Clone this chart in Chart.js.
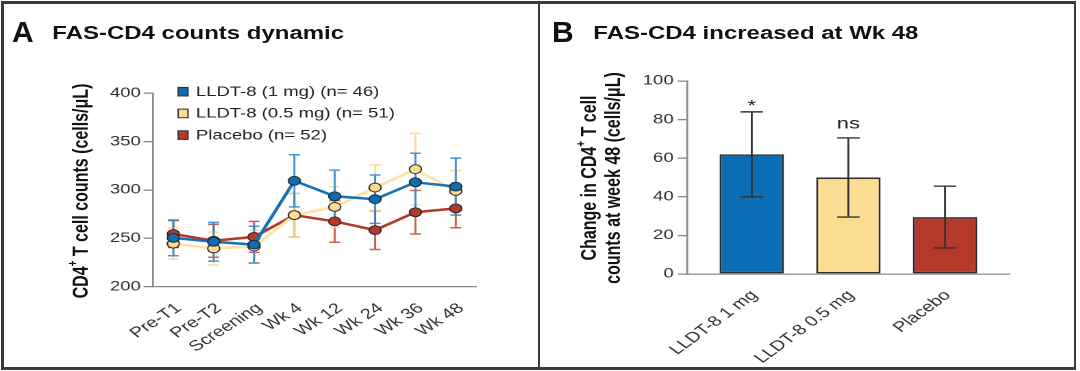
<!DOCTYPE html>
<html>
<head>
<meta charset="utf-8">
<script src="https://cdn.jsdelivr.net/npm/chart.js@4.4.0/dist/chart.umd.min.js"></script>
<style>
    html, body { margin: 0; padding: 0; background: #fff; }
    body { width: 1080px; height: 371px; position: relative; overflow: hidden; font-family: "Liberation Sans", Arial, sans-serif; }
    /* the source figure is stretched sideways, so the whole drawing is too */
    #stretch { position: absolute; left: 0; top: 0; width: 788.3px; height: 371px; transform: scaleX(1.37); transform-origin: 0 0; }
    #stretch canvas { position: absolute; top: 0; }
    .panel-title { position: absolute; font-weight: bold; font-size: 17.5px; line-height: 17.5px; color: #111; white-space: nowrap; }
    .panel-letter { position: absolute; font-weight: bold; font-size: 30px; line-height: 30px; color: #111; }
    .frame { position: absolute; background: #3a3a3a; }
</style>
</head>
<body>
<div id="stretch">
    <div class="panel-title" style="left:38.2px; top:24.5px;">FAS-CD4 counts dynamic</div>
    <div class="panel-title" style="left:433.1px; top:24.5px;">FAS-CD4 increased at Wk 48</div>
    <canvas id="chartA" width="392" height="371" style="left:0;"></canvas>
    <canvas id="chartB" width="394" height="371" style="left:394.2px;"></canvas>
</div>
<div class="panel-letter" style="left:12px; top:17px;">A</div>
<div class="panel-letter" style="left:552px; top:17px;">B</div>
<div class="frame" style="left:1px; top:1px; width:1075px; height:2.5px;"></div>
<div class="frame" style="left:1px; top:367px; width:1075px; height:2.5px;"></div>
<div class="frame" style="left:1px; top:1px; width:2.5px; height:368.5px;"></div>
<div class="frame" style="left:537.5px; top:1px; width:2.5px; height:368.5px;"></div>
<div class="frame" style="left:1073.5px; top:1px; width:2.5px; height:368.5px;"></div>

<script>
// ===== Panel A: CD4 counts over time =====
const timepoints = ['Pre-T1', 'Pre-T2', 'Screening', 'Wk 4', 'Wk 12', 'Wk 24', 'Wk 36', 'Wk 48'];
const seriesNames = ['LLDT-8 (1 mg) (n= 46)', 'LLDT-8 (0.5 mg) (n= 51)', 'Placebo (n= 52)'];

const dose1Mean = [250.5, 246.5, 243.5, 309.5, 293.5, 290.5, 308, 303.5];
const dose1Err = [18.5, 20, 19, 27, 27, 25, 30, 29.5];
const dose05Mean = [244.5, 239.5, 241.5, 274, 282.5, 302.5, 321.5, 299];
const dose05Err = [16, 17, 17, 22.5, 21, 23.5, 37, 21];
const placeboMean = [254.5, 247.5, 251.5, 274, 267.5, 258.5, 277, 281];
const placeboErr = [14, 17, 16, 22.5, 21.5, 20, 22.5, 20];

const countTicks = [200, 250, 300, 350, 400];

// ===== Panel B: change at week 48 =====
const groupNames = ['LLDT-8 1 mg', 'LLDT-8 0.5 mg', 'Placebo'];
const changeMean = [62, 50, 29.5];
const changeErr = [22, 20.5, 16];
const changeSig = ['*', 'ns', ''];
const changeTicks = [0, 20, 40, 60, 80, 100];

const BLUE = '#0b6db4';
const YELLOW = '#fcdc90';
const RED = '#b4392a';
const AXIS = '#8a8a8a';
const FONT = '"Liberation Sans", Arial, sans-serif';

Chart.defaults.font.family = FONT;
Chart.defaults.color = '#333';

function drawVerticalTitle(ctx, parts, cx, cy, size) {
    const main = `bold ${size}px ${FONT}`;
    const small = `bold ${Math.round(size * 0.62)}px ${FONT}`;
    let total = 0;
    parts.forEach(p => {
        ctx.font = p.sup ? small : main;
        total += ctx.measureText(p.t).width;
    });
    ctx.save();
    ctx.translate(cx, cy);
    ctx.rotate(-Math.PI / 2);
    ctx.fillStyle = '#111';
    ctx.textBaseline = 'middle';
    ctx.textAlign = 'left';
    let pos = -total / 2;
    parts.forEach(p => {
        ctx.font = p.sup ? small : main;
        ctx.fillText(p.t, pos, p.sup ? -size * 0.38 : 0);
        pos += ctx.measureText(p.t).width;
    });
    ctx.restore();
}

const lineExtras = {
    id: 'lineExtras',
    beforeDatasetsDraw(chart) {
        const { ctx, scales: { x, y } } = chart;
        for (let i = chart.data.datasets.length - 1; i >= 0; i--) {
            const ds = chart.data.datasets[i];
            ctx.save();
            ctx.strokeStyle = ds.errColor;
            ctx.lineWidth = 1.5;
            ds.data.forEach((v, j) => {
                const px = x.getPixelForValue(j);
                const top = y.getPixelForValue(v + ds.errors[j]);
                const bot = y.getPixelForValue(v - ds.errors[j]);
                ctx.beginPath();
                ctx.moveTo(px, top); ctx.lineTo(px, bot);
                ctx.moveTo(px - 4, top); ctx.lineTo(px + 4, top);
                ctx.moveTo(px - 4, bot); ctx.lineTo(px + 4, bot);
                ctx.stroke();
            });
            ctx.restore();
        }
    },
    afterDraw(chart) {
        const ctx = chart.ctx;
        // legend inside the plot
        chart.data.datasets.forEach((ds, i) => {
            const cy = 91.7 + i * 21.7;
            ctx.save();
            ctx.fillStyle = ds.pointBackgroundColor;
            ctx.strokeStyle = '#333';
            ctx.lineWidth = 1;
            ctx.fillRect(130, cy - 4.3, 7.2, 8.6);
            ctx.strokeRect(130, cy - 4.3, 7.2, 8.6);
            ctx.fillStyle = '#222';
            ctx.font = `13.5px ${FONT}`;
            ctx.textBaseline = 'middle';
            ctx.fillText(ds.label, 143, cy + 0.5);
            ctx.restore();
        });
        drawVerticalTitle(ctx, [{ t: 'CD4' }, { t: '+', sup: true }, { t: ' T cell counts (cells/\u03bcL)' }], 59.6, 191, 16);
    }
};

function lineSeries(label, data, errors, color, lineColor, errColor) {
    return {
        label: label,
        data: data,
        errors: errors,
        errColor: errColor,
        borderColor: lineColor,
        borderWidth: 2.5,
        pointRadius: 4.4,
        pointBackgroundColor: color,
        pointBorderColor: '#2b2b2b',
        pointBorderWidth: 1,
        tension: 0
    };
}

new Chart(document.getElementById('chartA'), {
    type: 'line',
    data: {
        labels: timepoints,
        datasets: [
            lineSeries(seriesNames[0], dose1Mean, dose1Err, BLUE, '#1572b8', 'rgba(40, 130, 205, 0.85)'),
            lineSeries(seriesNames[1], dose05Mean, dose05Err, YELLOW, '#fde2a4', 'rgba(252, 218, 140, 0.9)'),
            lineSeries(seriesNames[2], placeboMean, placeboErr, RED, '#b4392a', 'rgba(192, 70, 52, 0.85)')
        ]
    },
    options: {
        responsive: false,
        animation: false,
        devicePixelRatio: 2,
        layout: { padding: { top: 93.3, right: 44.6, left: 0, bottom: 0 } },
        plugins: { legend: { display: false }, tooltip: { enabled: false } },
        scales: {
            x: {
                offset: true,
                afterFit: s => { s.height = 84.3; },
                grid: { display: false, drawTicks: false },
                border: { color: AXIS, width: 1.3 },
                ticks: { autoSkip: false, minRotation: 41, maxRotation: 41, padding: 13, labelOffset: 4, color: '#333', font: { size: 14.5 } }
            },
            y: {
                min: countTicks[0],
                max: countTicks[countTicks.length - 1],
                afterBuildTicks: s => { s.ticks = countTicks.map(v => ({ value: v })); },
                afterFit: s => { s.width = 111.8; },
                grid: { drawOnChartArea: false, tickLength: 7, color: AXIS, lineWidth: 1.3 },
                border: { color: AXIS, width: 1.3 },
                ticks: { padding: 2, color: '#333', font: { size: 13.5 } }
            }
        }
    },
    plugins: [lineExtras]
});

const barExtras = {
    id: 'barExtras',
    afterDatasetsDraw(chart) {
        const { ctx, scales: { x, y } } = chart;
        ctx.save();
        ctx.strokeStyle = '#333';
        ctx.lineWidth = 1.4;
        changeMean.forEach((v, i) => {
            const px = x.getPixelForValue(i);
            const top = y.getPixelForValue(v + changeErr[i]);
            const bot = y.getPixelForValue(v - changeErr[i]);
            ctx.beginPath();
            ctx.moveTo(px, top); ctx.lineTo(px, bot);
            ctx.moveTo(px - 8.2, top); ctx.lineTo(px + 8.2, top);
            ctx.moveTo(px - 8.2, bot); ctx.lineTo(px + 8.2, bot);
            ctx.stroke();
            if (changeSig[i]) {
                ctx.fillStyle = '#222';
                ctx.font = `16px ${FONT}`;
                ctx.textAlign = 'center';
                ctx.textBaseline = 'alphabetic';
                const lift = changeSig[i] === '*' ? 1 : 9.5;
                ctx.fillText(changeSig[i], px, top - lift);
            }
        });
        ctx.restore();
    },
    afterDraw(chart) {
        const ctx = chart.ctx;
        drawVerticalTitle(ctx, [{ t: 'Change in CD4' }, { t: '+', sup: true }, { t: ' T cell' }], 36.7, 178, 16);
        drawVerticalTitle(ctx, [{ t: 'counts at week 48 (cells/\u03bcL)' }], 54.1, 178, 16);
    }
};

new Chart(document.getElementById('chartB'), {
    type: 'bar',
    data: {
        datasets: [{
            data: groupNames.map((n, i) => ({ x: i, y: changeMean[i] })),
            backgroundColor: [BLUE, YELLOW, RED],
            borderColor: '#2a2a2a',
            borderWidth: 1.5,
            borderSkipped: false,
            categoryPercentage: 1,
            barPercentage: 2 / 3
        }]
    },
    options: {
        responsive: false,
        animation: false,
        devicePixelRatio: 2,
        layout: { padding: { top: 81, right: 51.2, left: 0, bottom: 0 } },
        plugins: { legend: { display: false }, tooltip: { enabled: false } },
        scales: {
            x: {
                type: 'linear',
                offset: false,
                min: -2 / 3,
                max: groupNames.length - 1 + 2 / 3,
                afterBuildTicks: s => { s.ticks = groupNames.map((n, i) => ({ value: i })); },
                afterFit: s => { s.height = 97; },
                grid: { display: false, drawTicks: false },
                border: { color: AXIS, width: 1.3 },
                ticks: {
                    autoSkip: false,
                    minRotation: 45, maxRotation: 45, padding: 13, labelOffset: 2,
                    color: '#333', font: { size: 14.5 },
                    callback: v => groupNames[v]
                }
            },
            y: {
                min: changeTicks[0],
                max: changeTicks[changeTicks.length - 1],
                afterBuildTicks: s => { s.ticks = changeTicks.map(v => ({ value: v })); },
                afterFit: s => { s.width = 107.7; },
                grid: { drawOnChartArea: false, tickLength: 7, color: AXIS, lineWidth: 1.3 },
                border: { color: AXIS, width: 1.3 },
                ticks: { padding: 3, color: '#333', font: { size: 13.5 } }
            }
        }
    },
    plugins: [barExtras]
});
</script>
</body>
</html>
